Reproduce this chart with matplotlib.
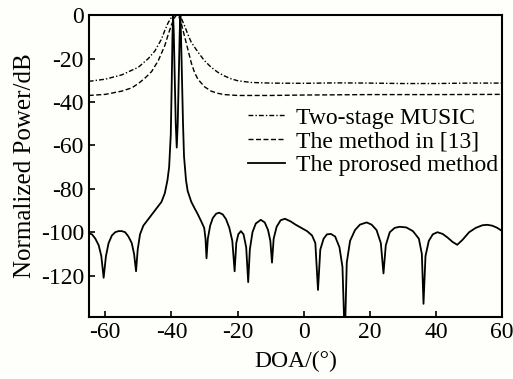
import matplotlib
matplotlib.use("Agg")
import matplotlib.pyplot as plt

plt.rcParams['font.family'] = ['Liberation Serif', 'DejaVu Serif']
plt.rcParams['axes.unicode_minus'] = False

# Two-stage MUSIC (dash-dot)
doa_music = [-65, -60, -55, -50, -47, -45, -43, -42, -41, -40, -39, -38, -37, -36, -35, -34,
             -32, -30, -28, -26, -24, -22, -20, -16, -10, 0, 10, 20, 30, 40, 50, 60]
pow_music = [-30.5, -29.5, -27.5, -24, -20, -16.5, -11, -7, -3.5, -1, 0, 0, -1.5, -5, -9, -12.5,
             -17, -21, -24, -26.3, -28, -29.3, -30.2, -31, -31.3, -31.4, -31.2, -31.3, -31.5, -31.5, -31.3, -31.3]

# The method in [13] (dashed)
doa_ref = [-65, -60, -55, -52, -50, -48, -46, -44, -42, -41, -40, -39, -38.5, -38, -37.5, -37,
           -36, -35, -34, -33, -32, -30, -28, -26, -24, -20, -10, 0, 20, 40, 60]
pow_ref = [-37, -36.5, -35, -33.5, -31.5, -29, -26, -21, -14, -9, -4.5, -1, 0, 0, -1.5, -4,
           -10, -16, -22, -26.5, -29.5, -33, -35, -36, -36.6, -37, -37, -36.8, -36.6, -36.6, -36.5]

# The proposed method (solid)
doa_prop = [-65, -64, -63, -62, -61.2, -60.5, -59.8, -59, -58, -57, -56, -55, -54, -53, -52, -51.3,
            -50.7, -50.2, -49.5, -48.5, -47, -46, -45, -44, -43, -42, -41.2, -40.7, -40.2, -39.9,
            -39.7, -39.5, -39.3, -39.0, -38.7, -38.4, -38.1, -37.8, -37.5, -37.3, -37.1, -36.8,
            -36.5, -36.2, -35.6, -35.1, -34, -33, -32.1, -31, -30.1, -29.7, -29.4, -29, -28.3,
            -27.5, -26.5, -25.6, -24.5, -23.5, -22.5, -21.6, -20.9, -20.4, -19.8, -19, -18.2,
            -17.4, -16.8, -16.3, -15.5, -14.5, -13, -11.8, -10.8, -10.1, -9.6, -9.1, -8.2, -7,
            -5.7, -4, -2.5, -1, 1, 2.5, 3.5, 4.3, 5, 6, 7, 8.2, 9.5, 10.8, 11.7, 12.4, 13, 14,
            15.5, 17, 19, 20.5, 22, 23.3, 24.1, 24.8, 26, 27.5, 29, 31, 33, 34.8, 35.7, 36.2,
            36.8, 37.8, 39, 40.4, 42, 43.5, 45, 46.4, 48, 50, 52, 54, 55.5, 57, 58.5, 60]
pow_prop = [-100.5, -101, -103, -106, -111, -121, -111, -105, -101.5, -100, -99.5, -99.5, -100,
            -102, -105, -110, -118, -108, -101, -97, -94, -92, -90, -88, -86, -82, -76, -70, -55,
            -30, -10, 0, -8, -30, -50, -61, -50, -30, -8, 0, -10, -30, -50, -65, -76, -81, -86,
            -89, -91.5, -95, -98, -103, -112, -103, -97, -93.5, -91.5, -91, -91.8, -94, -98, -104,
            -118, -105, -101, -99.5, -101, -107, -123, -108, -100, -96, -94.3, -95.5, -99, -104,
            -114, -103, -97.5, -94.5, -93.8, -95, -96.5, -97.8, -99.5, -101.5, -105, -126.6, -108,
            -103, -101, -100.8, -102, -107, -116, -150, -114, -104, -99, -96.5, -95.5, -96.5, -99,
            -105, -119, -106, -100, -98, -97.5, -97.8, -99.5, -103, -110, -133, -111, -104, -101,
            -100, -100.8, -102.5, -104.5, -105.8, -103.5, -100, -98, -96.8, -96.6, -97, -98, -99.5]

xticks = [-60, -40, -20, 0, 20, 40, 60]
yticks = [0, -20, -40, -60, -80, -100, -120]

bg = "#fefefa"
fig = plt.figure(figsize=(5.13, 3.79), dpi=100, facecolor=bg)
ax = fig.add_axes([0.173, 0.164, 0.806, 0.796], facecolor=bg)

ax.plot(doa_music, pow_music, color="black", linewidth=1.0,
        linestyle=(0, (3.5, 1.5, 1.0, 1.5)), label="Two-stage MUSIC")
ax.plot(doa_ref, pow_ref, color="black", linewidth=1.0,
        linestyle=(0, (3.6, 1.8)), label="The method in [13]")
ax.plot(doa_prop, pow_prop, color="black", linewidth=1.3, label="The prorosed method")

ax.set_xlim(-65, 60)
ax.set_ylim(-139, 0)
ax.set_xticks(xticks)
ax.set_yticks(yticks)
ax.tick_params(direction="in", length=4, width=1.2, labelsize=17, top=False, right=False)
for s in ax.spines.values():
    s.set_linewidth(1.5)

ax.set_xlabel("DOA/(°)", fontsize=17, labelpad=6)
ax.set_ylabel("Normalized Power/dB", fontsize=18, labelpad=3)

ax.legend(loc="upper right", bbox_to_anchor=(0.99, 0.695), frameon=False, fontsize=17,
          handlelength=1.6, handletextpad=0.45, labelspacing=0.1, borderpad=0, borderaxespad=0)

fig.savefig("out.png", dpi=100, facecolor=bg)
